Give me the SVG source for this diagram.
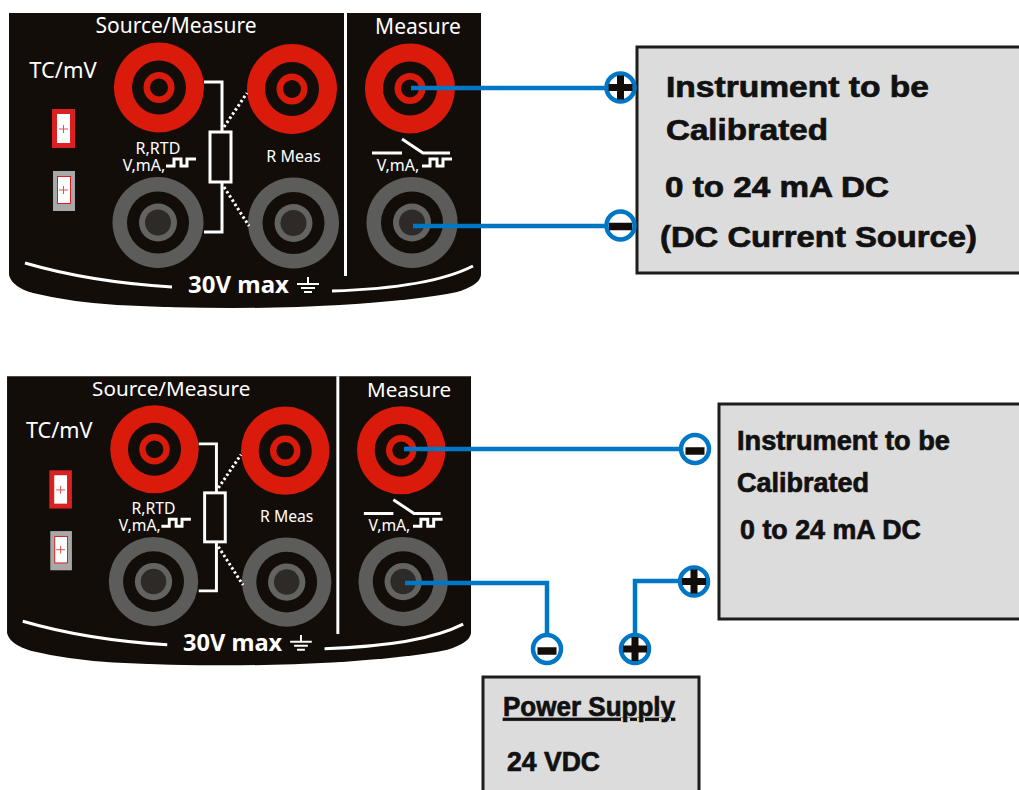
<svg xmlns="http://www.w3.org/2000/svg" width="1019" height="790" viewBox="0 0 1019 790">
<style>
.p{fill:#130d09}
.lb{font-family:"Noto Sans","Open Sans",sans-serif;fill:#fff}
.w{fill:none;stroke:#fff;stroke-width:3}
.d{fill:none;stroke:#fff;stroke-width:3;stroke-dasharray:2.5 2.5}
.c{fill:none;stroke:#0077c4;stroke-width:4.5}
.t{font-family:"Liberation Sans",Arial,sans-serif;font-weight:bold;fill:#111;stroke:#111;stroke-width:.7}
.box{fill:#dcdcdc;stroke:#1d1d1b;stroke-width:3}
</style>
<defs>
<g id="red"><circle r="45" fill="#da1a0a"/><circle r="27" fill="#130d09"/><circle r="15.5" fill="#da1a0a"/><circle r="9" fill="#130d09"/></g>
<g id="grey"><circle r="45.500" fill="#5c5c5a"/><circle r="31" fill="#130d09"/><circle r="19" fill="#636361"/><circle r="13" fill="#2e2a28"/></g>
<path id="pulse" d="M0 8H8V1H15V8H21V1H30" fill="none" stroke="#fff" stroke-width="3"/>
<g id="gnd" stroke="#fff" stroke-width="2"><path d="M11 0V7M0 7H22M4 11H18M7 15H15"/></g>
<g id="plus"><circle r="14" fill="none" stroke="#0077c4" stroke-width="4.500"/><path d="M-12 0H12M0 -12V12" stroke="#130d09" stroke-width="7"/></g>
<g id="minus"><circle r="14" fill="none" stroke="#0077c4" stroke-width="4.500"/><path d="M-11.500 1H11.500" stroke="#130d09" stroke-width="7.500"/></g>
<g id="minus-s"><circle r="14" fill="none" stroke="#0077c4" stroke-width="4.500"/><path d="M-9.500 2H9.500" stroke="#130d09" stroke-width="7.500"/></g>
</defs>

<g id="panel-top">
<path class="p" d="M9 13H481V275Q480 285 457 292Q420 300 340 305Q235 311 117 305Q70 302 33 293Q12 287 9 275Z"/>
<text class="lb" x="176" y="33" font-size="21" text-anchor="middle">Source/Measure</text>
<text class="lb" x="418" y="34" font-size="21" text-anchor="middle">Measure</text>
<text class="lb" x="63" y="78" font-size="22" text-anchor="middle">TC/mV</text>
<path d="M345.500 13V276" stroke="#fff" stroke-width="3"/>
<g id="tc-top"><rect x="52" y="109" width="23" height="39" fill="#da2020"/><rect x="57" y="114" width="13" height="29" fill="#fff"/><path d="M59 129H68M63.500 125V133" stroke="#e05050" stroke-width="1"/><rect x="53" y="171" width="22" height="40" fill="#a8a8a8"/><rect x="57.500" y="176.500" width="13" height="27" fill="#fff" stroke="#d82020"/><path d="M59 190H68M63.500 186V194" stroke="#e05050" stroke-width="1"/></g>
<use href="#red" x="159" y="87.500"/><use href="#red" x="292" y="89"/><use href="#red" x="410" y="88.500"/>
<use href="#grey" x="158" y="222.500"/><use href="#grey" x="293.500" y="223"/><use href="#grey" x="412" y="222.500"/>
<path class="w" d="M204 82H222V132M222 182V232H204"/><rect class="w" x="210" y="132" width="21" height="50"/>
<path class="d" d="M224 127L247 93M224 187L249 226"/>
<text class="lb" x="158" y="154" font-size="16" text-anchor="middle">R,RTD</text>
<text class="lb" x="144" y="171" font-size="16" text-anchor="middle">V,mA,</text>
<use href="#pulse" x="166" y="158"/>
<text class="lb" x="293.500" y="162" font-size="16" text-anchor="middle">R Meas</text>
<path class="w" d="M402 139L423 153H450M372 153H402"/>
<text class="lb" x="398" y="171" font-size="16" text-anchor="middle">V,mA,</text>
<use href="#pulse" x="422" y="158"/>
<path class="w" d="M25 263Q90 282 172 287M332 291Q430 288 473 266"/>
<text class="lb" x="238.500" y="293" font-size="24" font-weight="bold" text-anchor="middle">30V max</text>
<use href="#gnd" x="297" y="277"/>
</g>

<g id="panel-bottom" transform="translate(-1.800 363.500) scale(.983 .98)">
<path class="p" d="M9 13H481V275Q480 285 457 292Q420 300 340 305Q235 311 117 305Q70 302 33 293Q12 287 9 275Z"/>
<text class="lb" x="176" y="33" font-size="21" text-anchor="middle">Source/Measure</text>
<text class="lb" x="418" y="34" font-size="21" text-anchor="middle">Measure</text>
<text class="lb" x="62" y="76" font-size="22" text-anchor="middle">TC/mV</text>
<path d="M345.500 13V276" stroke="#fff" stroke-width="3"/>
<g id="tc-bottom"><rect x="52" y="109" width="23" height="39" fill="#da2020"/><rect x="57" y="114" width="13" height="29" fill="#fff"/><path d="M59 129H68M63.500 125V133" stroke="#e05050" stroke-width="1"/><rect x="53" y="171" width="22" height="40" fill="#a8a8a8"/><rect x="57.500" y="176.500" width="13" height="27" fill="#fff" stroke="#d82020"/><path d="M59 190H68M63.500 186V194" stroke="#e05050" stroke-width="1"/></g>
<use href="#red" x="159" y="87.500"/><use href="#red" x="292" y="89"/><use href="#red" x="410" y="88.500"/>
<use href="#grey" x="158" y="222.500"/><use href="#grey" x="293.500" y="223"/><use href="#grey" x="412" y="222.500"/>
<path class="w" d="M204 82H222V132M222 182V232H204"/><rect class="w" x="210" y="132" width="21" height="50"/>
<path class="d" d="M224 127L247 93M224 187L249 226"/>
<text class="lb" x="158" y="154" font-size="16" text-anchor="middle">R,RTD</text>
<text class="lb" x="144" y="171" font-size="16" text-anchor="middle">V,mA,</text>
<use href="#pulse" x="166" y="158"/>
<text class="lb" x="293.500" y="162" font-size="16" text-anchor="middle">R Meas</text>
<path class="w" d="M402 139L423 153H450M372 153H402"/>
<text class="lb" x="398" y="171" font-size="16" text-anchor="middle">V,mA,</text>
<use href="#pulse" x="422" y="158"/>
<path class="w" d="M25 263Q90 282 172 287M332 291Q430 288 473 266"/>
<text class="lb" x="238.500" y="293" font-size="24" font-weight="bold" text-anchor="middle">30V max</text>
<use href="#gnd" x="297" y="277"/>
</g>

<g id="instrument-top">
<rect class="box" x="637" y="47" width="390" height="226"/>
<text class="t" x="666" y="97" font-size="29" textLength="263" lengthAdjust="spacingAndGlyphs">Instrument to be</text>
<text class="t" x="666" y="140" font-size="29" textLength="162" lengthAdjust="spacingAndGlyphs">Calibrated</text>
<text class="t" x="665" y="197" font-size="29" textLength="224" lengthAdjust="spacingAndGlyphs">0 to 24 mA DC</text>
<text class="t" x="660" y="247" font-size="29" textLength="317" lengthAdjust="spacingAndGlyphs">(DC Current Source)</text>
</g>
<g id="instrument-bottom">
<rect class="box" x="719" y="404" width="310" height="215"/>
<text class="t" x="737" y="450" font-size="27" textLength="213" lengthAdjust="spacingAndGlyphs">Instrument to be</text>
<text class="t" x="737" y="492" font-size="27" textLength="132" lengthAdjust="spacingAndGlyphs">Calibrated</text>
<text class="t" x="740" y="539" font-size="27" textLength="181" lengthAdjust="spacingAndGlyphs">0 to 24 mA DC</text>
</g>
<g id="power-supply">
<rect class="box" x="483" y="677" width="216" height="125"/>
<text class="t" x="503" y="716" font-size="27" textLength="172" lengthAdjust="spacingAndGlyphs" text-decoration="underline">Power Supply</text>
<text class="t" x="507" y="771" font-size="27" textLength="93" lengthAdjust="spacingAndGlyphs">24 VDC</text>
</g>

<g id="connectors">
<path class="c" d="M411 88H607M413 226H607M404 449H682M405 583H547V636M635 636V581H681"/>
<use href="#plus" x="620.500" y="87.500"/>
<use href="#minus" x="620.500" y="225.500"/>
<use href="#minus-s" x="695" y="449"/>
<use href="#plus" x="694" y="581.500"/>
<use href="#minus-s" x="547" y="649"/>
<use href="#plus" x="635" y="649"/>
</g>
</svg>
